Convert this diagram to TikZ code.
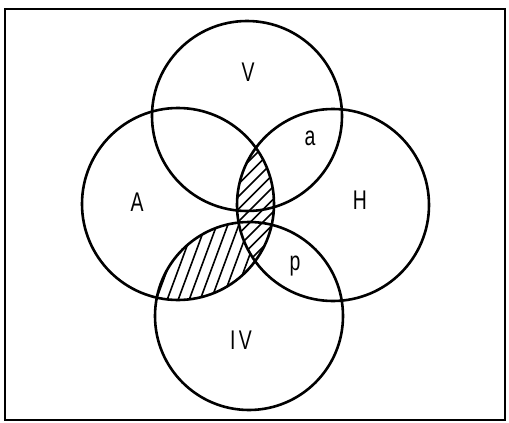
\documentclass[tikz,border=0pt]{standalone}
\usepackage{fontspec}
\setmainfont{Liberation Sans}
\newcommand{\narrowtxt}[1]{\scalebox{0.72}[1]{#1}}
\begin{document}
\begin{tikzpicture}[x=1pt,y=-1pt,
  circ/.style={line width=2.6pt},
  lbl/.style={font=\fontsize{27}{27}\selectfont, inner sep=0pt},
  hatchline/.style={line width=1.6pt},
  frame/.style={line width=1.8pt}]
\useasboundingbox (0,0) rectangle (509,423);
% frame
\draw[frame] (5,9) rectangle (505,420);
% centres
\coordinate (cV) at (247,116);
\coordinate (cA) at (178,204);
\coordinate (cH) at (333,205);
\coordinate (cIV) at (249,316);
% lower hatch: A cap IV (steep lines)
\begin{scope}
  \clip (cA) circle[radius=96];
  \clip (cIV) circle[radius=94];
  \foreach \s in {90,101,...,320} \draw[hatchline] (\s,330) -- (\s+48,200);
\end{scope}
% blank the A cap H lens
\begin{scope}
  \clip (cA) circle[radius=96];
  \fill[white] (cH) circle[radius=96];
\end{scope}
% upper hatch: A cap H (45 degree lines)
\begin{scope}
  \clip (cA) circle[radius=96];
  \clip (cH) circle[radius=96];
  \foreach \s in {80,92.5,...,320} \draw[hatchline] (\s,280) -- (\s+150,130);
\end{scope}
% circles
\draw[circ] (cV) circle[radius=95];
\draw[circ] (cA) circle[radius=96];
\draw[circ] (cH) circle[radius=96];
\draw[circ] (cIV) circle[radius=94];
% labels
\node[lbl] (lV) at (248,72) {\narrowtxt{V}};
\node[lbl] (lA) at (137,202) {\narrowtxt{A}};
\node[lbl] (lH) at (360,200) {\narrowtxt{H}};
\node[lbl] (lIV) at (241,340) {\narrowtxt{I\,V}};
\node[lbl] (la) at (310,138) {\narrowtxt{a}};
\node[lbl] (lp) at (295,266) {\narrowtxt{p}};
\end{tikzpicture}
\end{document}
